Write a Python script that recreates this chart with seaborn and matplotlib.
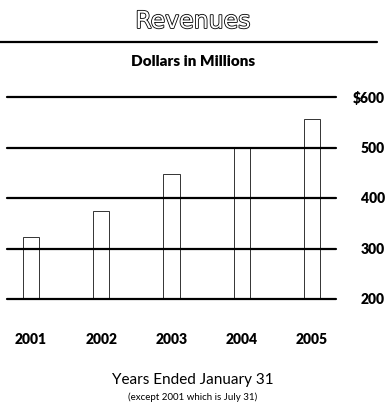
import matplotlib
matplotlib.use("Agg")
import matplotlib.pyplot as plt
import matplotlib.patheffects as pe
import seaborn as sns
import pandas as pd

years = ["2001", "2002", "2003", "2004", "2005"]
revenues = [322, 375, 447, 500, 557]
tick_values = [200, 300, 400, 500, 600]
tick_labels = ["200", "300", "400", "500", "$600"]

sns.set_theme(style="white")
plt.rcParams['font.family'] = ['Lato', 'DejaVu Sans']

W, H = 386, 410
fig = plt.figure(figsize=(W / 100, H / 100), dpi=100)

def fx(px):
    return px / W

def fy(py):
    return 1 - py / H

ax = fig.add_axes([fx(7), fy(300), fx(336) - fx(7), fy(98) - fy(300)])

df = pd.DataFrame({"year": years, "revenue": revenues})
sns.barplot(data=df, x="year", y="revenue", ax=ax, color="white",
            edgecolor="#333333", linewidth=0.7, width=0.23, saturation=1, zorder=1)

ax.set_ylim(200, 600)
ax.set_xlim(-0.34, 4.34)
for v in tick_values:
    ax.axhline(v, color="black", linewidth=1.6, zorder=3, clip_on=False)

for s in ax.spines.values():
    s.set_visible(False)
ax.set_xticks([])
ax.set_yticks([])
ax.set_xlabel("")
ax.set_ylabel("")
ax.patch.set_alpha(0)

# right-side value labels
for v, lab in zip(tick_values, tick_labels):
    y_ax = (v - 200) / 400
    y_fig = fy(300) + y_ax * (fy(98) - fy(300))
    fig.text(fx(385), y_fig, lab, ha="right", va="center",
             fontsize=10, fontweight="heavy", color="black")

# year labels
for i, yr in enumerate(years):
    fig.text(fx(31 + i * 70.25), fy(340), yr, ha="center", va="center",
             fontsize=10, fontweight="heavy", color="black")

# title (outlined)
fig.text(0.5, fy(22), "Revenues", ha="center", va="center", fontsize=17,
         color="white", family=["DejaVu Sans"],
         path_effects=[pe.withStroke(linewidth=1.2, foreground="black")])
fig.add_artist(plt.Line2D([0, fx(377)], [fy(43), fy(43)], color="black",
                          linewidth=1.6, transform=fig.transFigure))
fig.text(0.5, fy(61), "Dollars in Millions", ha="center", va="center",
         fontsize=11, fontweight="heavy", color="black")

fig.text(0.5, fy(380), "Years Ended January 31", ha="center", va="center",
         fontsize=11, color="black")
fig.text(0.5, fy(397), "(except 2001 which is July 31)", ha="center",
         va="center", fontsize=7, color="black")

fig.savefig("out.png", dpi=100)
